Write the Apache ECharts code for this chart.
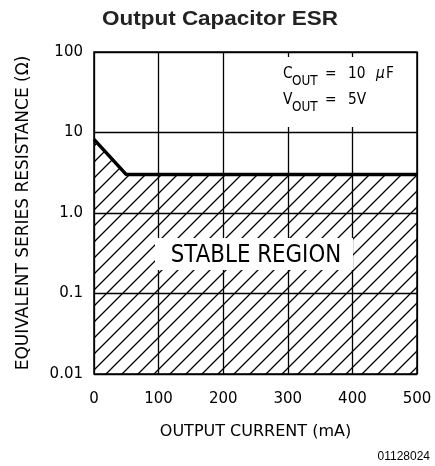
<!DOCTYPE html>
<html><head><meta charset="utf-8">
<script src="https://cdn.jsdelivr.net/npm/echarts@6/dist/echarts.min.js"></script>
<style>html,body{margin:0;padding:0;background:#fff}#c{width:435px;height:466px}</style>
</head><body><div id="c"></div>
<script>
// Data
var currentMA = [0, 50, 500];
var esrOhm = [8.2, 3.0, 3.0];
var xTicks = [0, 100, 200, 300, 400, 500];
var yTicks = [0.01, 0.1, 1, 10, 100];
var yTickLabels = ['0.01', '0.1', '1.0', '10', '100'];
var titleText = 'Output Capacitor ESR';
var xName = 'OUTPUT CURRENT (mA)';
var yName = 'EQUIVALENT SERIES RESISTANCE (\u03A9)';

// hatch pattern
var S = 16;
var pc = document.createElement('canvas');
pc.width = S; pc.height = S;
var g = pc.getContext('2d');
g.strokeStyle = '#000'; g.lineWidth = 1.3;
g.beginPath();
g.moveTo(-2, S + 2); g.lineTo(S + 2, -2);
g.moveTo(-2, 2); g.lineTo(2, -2);
g.moveTo(S - 2, S + 2); g.lineTo(S + 2, S - 2);
g.stroke();

var FONT = 'DejaVu Sans';
function t(x, y, txt, size, extra) {
  var st = {text: txt, font: (extra || '') + size + 'px "DejaVu Sans"', fill: '#000', verticalAlign: 'middle'};
  return {type: 'text', x: x, y: y, z: 60, scaleX: 0.86, style: st};
}
var chart = echarts.init(document.getElementById('c'), null, {renderer: 'canvas'});
var option = {
  animation: false,
  backgroundColor: '#fff',
  grid: {left: 94, right: 18, top: 52, bottom: 92, show: true, borderColor: '#000', borderWidth: 1.5, backgroundColor: 'transparent'},
  xAxis: {
    type: 'value', min: xTicks[0], max: xTicks[xTicks.length - 1], interval: 100,
    name: xName, nameLocation: 'middle', nameGap: 50,
    nameTextStyle: {fontFamily: FONT, fontSize: 16, color: '#000', verticalAlign: 'top'},
    axisLine: {show: false}, axisTick: {show: false},
    axisLabel: {fontFamily: FONT, fontSize: 15, color: '#000', margin: 18},
    splitLine: {show: true, lineStyle: {color: '#000', width: 1.3}}
  },
  yAxis: {
    type: 'log', logBase: 10, min: yTicks[0], max: yTicks[yTicks.length - 1],
    name: yName, nameLocation: 'middle', nameGap: 62, nameRotate: 90,
    nameTextStyle: {fontFamily: FONT, fontSize: 17, color: '#000'},
    axisLine: {show: false}, axisTick: {show: false},
    axisLabel: {fontFamily: FONT, fontSize: 15, color: '#000', margin: 11,
      formatter: function (v) {
        var best = 0;
        for (var i = 0; i < yTicks.length; i++) {
          if (Math.abs(Math.log10(yTicks[i]) - Math.log10(v)) < Math.abs(Math.log10(yTicks[best]) - Math.log10(v))) best = i;
        }
        return yTickLabels[best];
      }},
    splitLine: {show: true, lineStyle: {color: '#000', width: 1.3}}
  },
  series: [{
    type: 'line',
    data: currentMA.map(function (x, i) { return [x, esrOhm[i]]; }),
    symbol: 'none',
    lineStyle: {color: '#000', width: 3.5},
    areaStyle: {origin: 'start', color: {image: pc, repeat: 'repeat'}, opacity: 1},
    z: 3
  }],
  graphic: [
    {type: 'text', x: 220, y: 19, z: 60, scaleX: 1.07, style: {text: titleText, font: 'bold 21px "Liberation Sans", Arial, sans-serif', fill: '#222', align: 'center', verticalAlign: 'middle'}},
    {type: 'rect', z: 50, shape: {x: 278, y: 57, width: 136, height: 70}, style: {fill: '#fff'}},
    t(283, 74, 'C', 16), t(292, 81, 'OUT', 14), t(325, 74, '=', 16), t(348, 74, '10', 16),
    t(376, 74, '\u03BC', 16, 'italic '), t(386, 74, 'F', 16),
    t(283, 100, 'V', 16), t(292, 107, 'OUT', 14), t(325, 100, '=', 16), t(348, 100, '5V', 16),
    {type: 'rect', z: 50, shape: {x: 155, y: 238, width: 198, height: 32}, style: {fill: '#fff'}},
    {type: 'text', x: 256, y: 256, z: 60, scaleX: 0.89, style: {text: 'STABLE REGION', font: '24px "DejaVu Sans"', fill: '#000', align: 'center', verticalAlign: 'middle'}},
    {type: 'text', x: 430, y: 457, z: 60, style: {text: '01128024', font: '12px "Liberation Sans", Arial, sans-serif', fill: '#000', align: 'right', verticalAlign: 'middle'}}
  ]
};
chart.setOption(option);
</script>
</body></html>
